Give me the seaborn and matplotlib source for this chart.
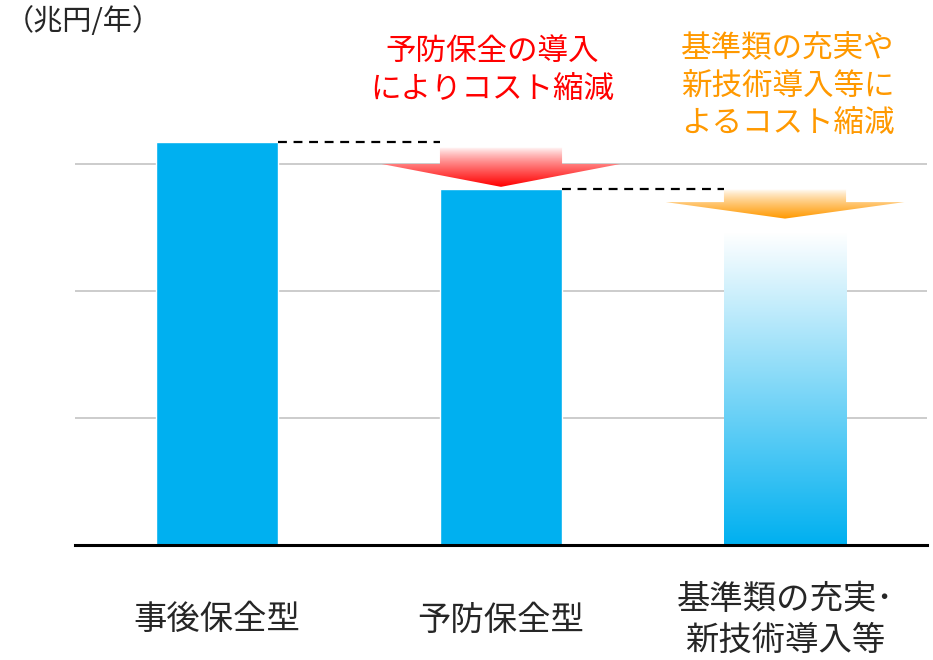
import numpy as np
import pandas as pd
import matplotlib
matplotlib.use('Agg')
import matplotlib.pyplot as plt
from matplotlib.patches import Polygon
from matplotlib.colors import LinearSegmentedColormap
import seaborn as sns

# データ
categories = ['事後保全型', '予防保全型', '基準類の充実･\n新技術導入等']
values = [3.17, 2.80, 2.46]
unit_label = '（兆円/年）'
note_texts = ['予防保全の導入\nによりコスト縮減', '基準類の充実や\n新技術導入等に\nよるコスト縮減']
note_colors = ['#FF0000', '#FF9900']

sns.set_theme(style='white')
plt.rcParams['font.family'] = ['Noto Sans CJK JP', 'DejaVu Sans']

bar_color = '#00B0F0'
bar_w = 0.43

fig = plt.figure(figsize=(9.33, 6.6), dpi=100)
ax = fig.add_axes([75 / 933, 1 - 545 / 660, (927 - 75) / 933, 508 / 660])

df = pd.DataFrame({'cat': categories, 'val': values})
sns.barplot(data=df, x='cat', y='val', color=bar_color, width=bar_w,
            saturation=1, ax=ax, zorder=2)

ax.set_yticks([1, 2, 3])
ax.set_yticklabels([])
ax.yaxis.grid(True, color='#C8C8C8', lw=1.3, zorder=0)
ax.tick_params(axis='both', length=0)
for s in ['left', 'right', 'top']:
    ax.spines[s].set_visible(False)
ax.spines['bottom'].set_color('black')
ax.spines['bottom'].set_linewidth(2.2)
ax.spines['bottom'].set_zorder(5)
ax.set_xlabel('')
ax.set_ylabel('')
ax.set_xticks(range(len(categories)))
ax.set_xticklabels(categories, fontsize=24, linespacing=1.25)
ax.tick_params(axis='x', pad=54)
for lab in ax.get_xticklabels():
    lab.set_va('center')

# 3本目の棒はグラデーション（上が白）
p = ax.patches[2]
p.set_facecolor('none')
p.set_edgecolor('none')
x0, w, h = p.get_x(), p.get_width(), p.get_height()
blue_cmap = LinearSegmentedColormap.from_list('b', ['#FFFFFF', bar_color])
grad = np.linspace(0, 1, 256).reshape(-1, 1)
im = ax.imshow(grad, cmap=blue_cmap, aspect='auto', extent=[x0, x0 + w, 0, h],
               origin='upper', zorder=2)
im.set_clip_path(p)

# 破線
for i in range(2):
    ax.plot([i + bar_w / 2, i + 1 - bar_w / 2], [values[i], values[i]],
            ls=(0, (4, 3)), color='black', lw=1.6, zorder=3)

# 矢印（グラデーション）
arrow_par = [(3.13, 3.00, 2.82), (2.80, 2.70, 2.57)]
head_half = 0.42
for i, (top, base, tip) in enumerate(arrow_par):
    cx = i + 1
    verts = [(cx - bar_w / 2, top), (cx + bar_w / 2, top), (cx + bar_w / 2, base),
             (cx + head_half, base), (cx, tip), (cx - head_half, base),
             (cx - bar_w / 2, base)]
    poly = Polygon(verts, closed=True, facecolor='none', edgecolor='none')
    ax.add_patch(poly)
    cmap = LinearSegmentedColormap.from_list('a', ['#FFFFFF', note_colors[i]])
    g = np.linspace(0, 1, 256).reshape(-1, 1) ** 0.8
    ima = ax.imshow(g, cmap=cmap, aspect='auto',
                    extent=[cx - head_half, cx + head_half, tip, top],
                    origin='upper', zorder=4)
    ima.set_clip_path(poly)

ax.set_xlim(-0.5, 2.5)
ax.set_ylim(0, 4)

# テキスト
fig.text(5 / 933, 1 - 22 / 660, unit_label, fontsize=21, va='center', ha='left')
fig.text(492 / 933, 1 - 71 / 660, note_texts[0], color=note_colors[0],
         fontsize=22, ha='center', va='center', linespacing=1.3)
fig.text(788 / 933, 1 - 86 / 660, note_texts[1], color=note_colors[1],
         fontsize=22, ha='center', va='center', linespacing=1.3)

fig.savefig('out.png', dpi=100)
